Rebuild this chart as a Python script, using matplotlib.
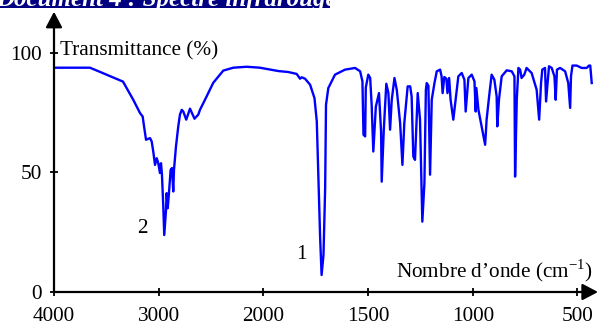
import numpy as np
import matplotlib
matplotlib.use('Agg')
import matplotlib.pyplot as plt
from matplotlib.patches import Rectangle

# Spectre IR (nombre d'onde en cm-1, transmittance en %)
wavenumber = [4000, 3656, 3341, 3243, 3179, 3153, 3140, 3121, 3083, 3067,
              3052, 3035, 3019, 3004, 2988, 2978, 2969, 2956, 2947, 2930,
              2924, 2914, 2902, 2886, 2873, 2861, 2854, 2835, 2813, 2797,
              2780, 2765, 2737, 2701, 2658, 2622, 2606, 2558, 2479, 2383,
              2288, 2160, 2033, 1928, 1881, 1841, 1825, 1817, 1801, 1777,
              1756, 1745, 1737, 1729, 1722, 1713, 1705, 1701, 1690, 1658,
              1610, 1562, 1538, 1527, 1522, 1514, 1511, 1499, 1490, 1483,
              1475, 1463, 1448, 1438, 1435, 1425, 1413, 1403, 1395, 1387,
              1374, 1363, 1347, 1336, 1327, 1311, 1299, 1292, 1284, 1276,
              1263, 1252, 1241, 1231, 1224, 1220, 1212, 1204, 1196, 1183,
              1172, 1156, 1149, 1144, 1136, 1126, 1121, 1113, 1106, 1093,
              1082, 1069, 1053, 1040, 1034, 1021, 1005, 992, 986, 983,
              973, 958, 941, 934, 922, 910, 897, 886, 883, 875,
              862, 838, 814, 801, 798, 790, 782, 774, 767, 754,
              743, 719, 695, 683, 674, 668, 655, 650, 636, 623,
              610, 604, 598, 583, 559, 544, 535, 531, 524, 504,
              480, 456, 445, 439, 432]
transmittance = [93.7, 93.7, 87.9, 80.3, 74.8, 73.3, 69.2, 63.6, 64.3, 62.9,
                 58.7, 53.1, 55.9, 53.8, 49.7, 53.8, 49.0, 35.7, 23.8, 34.3,
                 41.3, 35.0, 41.3, 51.0, 51.8, 42.0, 51.0, 60.8, 69.2, 74.1,
                 76.1, 75.4, 72.0, 76.6, 72.4, 74.1, 76.1, 80.3, 87.4, 92.5,
                 93.7, 94.1, 93.7, 92.3, 91.9, 91.1, 89.1, 89.7, 89.1, 86.6,
                 81.0, 71.3, 47.7, 22.6, 7.1, 15.5, 43.5, 78.2, 85.2, 90.8,
                 92.9, 93.6, 92.2, 88.0, 65.7, 65.0, 85.4, 90.8, 89.4, 78.2,
                 58.7, 77.4, 83.1, 67.1, 46.1, 67.8, 87.0, 83.1, 67.8, 80.3,
                 89.4, 84.5, 70.6, 53.1, 70.6, 85.9, 85.9, 81.7, 56.6, 55.2,
                 83.1, 72.0, 29.4, 45.5, 84.5, 87.3, 86.2, 49.0, 80.3, 87.3,
                 92.2, 92.9, 90.1, 83.1, 89.8, 89.1, 83.1, 89.4, 80.3, 72.0,
                 80.3, 90.1, 91.5, 88.7, 75.4, 89.4, 90.8, 88.0, 75.4, 85.2,
                 76.1, 69.2, 61.5, 72.0, 81.7, 90.8, 88.7, 81.7, 69.2, 80.3,
                 90.1, 92.6, 92.2, 90.1, 48.2, 80.3, 93.6, 92.9, 89.4, 90.8,
                 93.6, 91.5, 84.5, 72.0, 87.3, 92.9, 93.6, 79.6, 94.3, 93.6,
                 90.1, 80.3, 92.9, 93.6, 92.2, 87.3, 76.9, 90.1, 94.6, 94.6,
                 93.6, 93.6, 94.6, 94.6, 87.3]

x_ticks = [4000, 3000, 2000, 1500, 1000, 500]
y_ticks = [0, 50, 100]
title = 'Document 4 : Spectre infrarouge de l\u2019aspirine'


# echelle en deux parties : 1000 cm-1 puis 500 cm-1 par graduation
# (fonction croissante, l'axe est ensuite inverse par les limites)
def forward(w):
    w = np.asarray(w, dtype=float)
    return -np.where(w >= 2000, (4000 - w) / 1000, 2 + (2000 - w) / 500)


def inverse(u):
    u = -np.asarray(u, dtype=float)
    return np.where(u <= 2, 4000 - 1000 * u, 2000 - 500 * (u - 2))


plt.rcParams['font.family'] = ['Liberation Serif', 'DejaVu Serif']
plt.rcParams['mathtext.fontset'] = 'custom'
plt.rcParams['mathtext.rm'] = 'Liberation Serif'

W, H = 599, 321
FS = 15.3
fig = plt.figure(figsize=(W / 100, H / 100), dpi=100)
ax = fig.add_axes([54 / W, 1 - 292 / H, (598 - 54) / W, (292 - 11.7) / H])
ax.set_xscale('function', functions=(forward, inverse))
ax.set_xlim(4000, 402)
ax.set_ylim(0, 117.1)

ax.plot(wavenumber, transmittance, color='#0000ff', lw=1.7, solid_joinstyle='round')

for s in ax.spines.values():
    s.set_visible(False)

arrow = dict(arrowstyle='-|>,head_length=0.95,head_width=0.5', color='black',
             lw=1.6, shrinkA=0, shrinkB=0, mutation_scale=10)
ax.annotate('', xy=(1, 0), xytext=(0, 0), xycoords='axes fraction', arrowprops=arrow)
ax.annotate('', xy=(0, 1), xytext=(0, 0), xycoords='axes fraction', arrowprops=arrow)

ax.set_xticks(x_ticks)
ax.set_xticklabels([str(v) for v in x_ticks])
ax.set_yticks(y_ticks)
ax.tick_params(axis='both', direction='inout', length=6, width=1.3, labelsize=FS)
ax.tick_params(axis='x', pad=7.5)
ax.tick_params(axis='y', pad=6)

ax.text(3943, 98.6, 'Transmittance (%)', fontsize=FS, ha='left', va='baseline')
ax.text(426, 6.3, 'Nombre d\u2019onde (cm$^{\\mathregular{-1}}$)', fontsize=FS,
        ha='right', va='baseline')
ax.text(3153, 26.7, '2', fontsize=FS, ha='center', va='center')
ax.text(1816, 15.5, '1', fontsize=FS, ha='center', va='center')

# bandeau du titre (coupe en haut)
band = Rectangle((0, 1 - 8 / H), 330 / W, 8 / H, transform=fig.transFigure,
                 facecolor='#000080', edgecolor='none')
fig.add_artist(band)
t = fig.text(-4 / W, 1 - 6 / H, title, color='white', fontsize=18,
             fontweight='bold', fontstyle='italic', va='baseline', ha='left')
t.set_clip_path(band)

fig.savefig('out.png', dpi=100)
